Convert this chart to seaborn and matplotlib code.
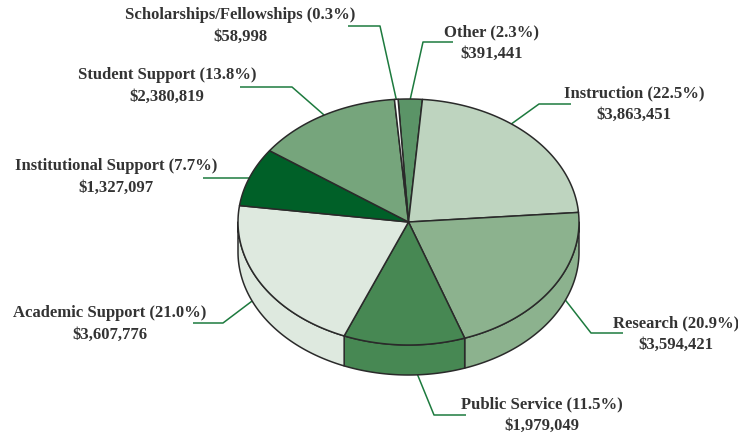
import numpy as np
import matplotlib
matplotlib.use("Agg")
import matplotlib.pyplot as plt
from matplotlib.patches import Polygon
import seaborn as sns

# ---- data ----
categories = ["Other", "Instruction", "Research", "Public Service",
              "Academic Support", "Institutional Support", "Student Support",
              "Scholarships/Fellowships"]
amounts = [391441, 3863451, 3594421, 1979049, 3607776, 1327097, 2380819, 58998]
colors = ["#5b9467", "#bed4bf", "#8cb28e", "#478853",
          "#dee9df", "#006028", "#76a57c", "#ffffff"]

# ---- layout (pixel space) ----
label_pos = [(492, 32), (634, 93), (676, 323), (542, 404),
             (110, 313), (116, 166), (167, 75), (240, 15)]
leader_elbow = [(423, 42), (539, 104), (591, 333), (434, 415),
                (223, 323), (None, None), (292, 87), (380, 26)]
leader_end = [(453, 42), (571, 104), (623, 333), (466, 415),
              (193, 323), (203, 178), (240, 87), (348, 26)]
leader_angle_shift = [0, 8, 8, 3.5, -4, 0, 0, 0]

sns.set_theme(style="white")
plt.rcParams['font.family'] = ['Liberation Serif', 'DejaVu Serif']

fig = plt.figure(figsize=(7.38, 4.36), dpi=100)
ax = fig.add_axes([0, 0, 1, 1])
ax.set_xlim(0, 738)
ax.set_ylim(436, 0)
ax.axis("off")

cx, cy, ra, rb, depth = 408.5, 222.0, 170.5, 123.0, 30.0
start = 93.5
edge = "#2a2a2a"
lw = 1.1

vals = np.array(amounts, dtype=float)
fr = vals / vals.sum()
bounds = start - 360 * np.concatenate([[0], np.cumsum(fr)])


def pt(t, dy=0.0):
    r = np.deg2rad(t)
    return cx + ra * np.cos(r), cy - rb * np.sin(r) + dy


def arc(t1, t2, dy=0.0, n=None):
    if n is None:
        n = max(3, int(abs(t2 - t1) * 2))
    ts = np.linspace(t1, t2, n)
    r = np.deg2rad(ts)
    return np.column_stack([cx + ra * np.cos(r), cy - rb * np.sin(r) + dy])


# side faces (visible front: angles in [-180, 0])
for i in range(len(vals)):
    t1, t2 = bounds[i], bounds[i + 1]  # t1 > t2
    for shift in (0, -360, 360):
        a1, a2 = t1 + shift, t2 + shift
        lo, hi = max(a2, -180), min(a1, 0)
        if hi > lo:
            top = arc(hi, lo)
            bot = arc(lo, hi, dy=depth)
            ax.add_patch(Polygon(np.vstack([top, bot]), closed=True,
                                 facecolor=colors[i], edgecolor=edge,
                                 linewidth=lw, joinstyle="round", zorder=2))

# top faces
for i in range(len(vals)):
    t1, t2 = bounds[i], bounds[i + 1]
    pts = np.vstack([[cx, cy], arc(t1, t2)])
    ax.add_patch(Polygon(pts, closed=True, facecolor=colors[i],
                         edgecolor=edge, linewidth=lw, joinstyle="round",
                         zorder=3))

# labels and leaders
lead_col = "#1d7a3e"
txt_col = "#333333"
for i, name in enumerate(categories):
    mid = (bounds[i] + bounds[i + 1]) / 2 + leader_angle_shift[i]
    s = np.sin(np.deg2rad(mid))
    dy = depth * 0.75 if s < -0.2 else 0.0
    x0, y0 = pt(mid, dy)
    ex, ey = leader_end[i]
    bx, by = leader_elbow[i]
    if bx is None:
        xs, ys = [x0, ex], [ey, ey]
    else:
        xs, ys = [x0, bx, ex], [y0, by, ey]
    ax.plot(xs, ys, color=lead_col, lw=1.1, zorder=1, solid_capstyle="butt")
    pct = 100 * fr[i]
    lx, ly = label_pos[i]
    ax.text(lx, ly, f"{name} ({pct:.1f}%)", ha="center", va="center",
            fontsize=12, fontweight="bold", color=txt_col)
    ax.text(lx, ly + 22, f"${amounts[i]:,}", ha="center", va="center",
            fontsize=12, fontweight="bold", color=txt_col)

fig.savefig("out.png", dpi=100, facecolor="white")
